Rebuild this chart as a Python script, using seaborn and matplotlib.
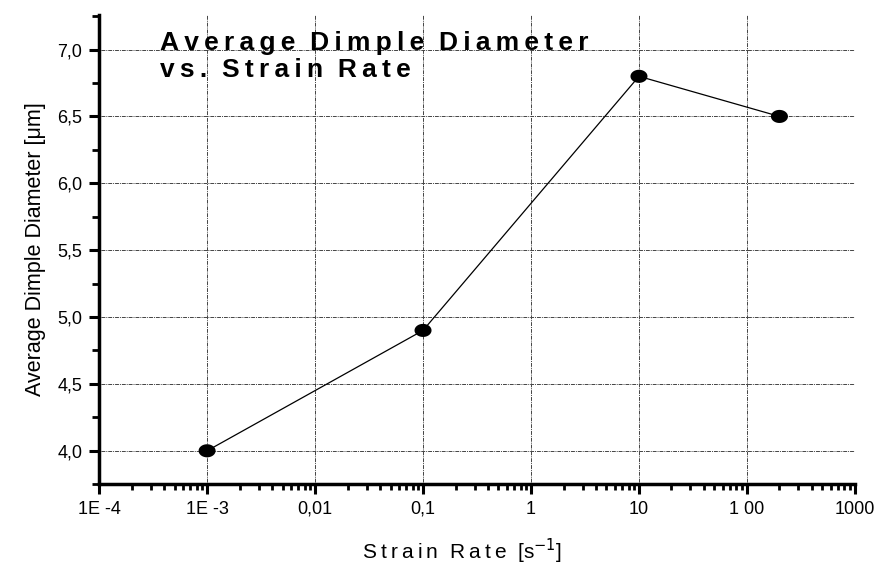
import numpy as np
import pandas as pd
import matplotlib
matplotlib.use("Agg")
import matplotlib.pyplot as plt
import seaborn as sns
from matplotlib.path import Path
from matplotlib.ticker import FixedLocator, LogLocator, MultipleLocator, NullFormatter

strain_rate = [1e-3, 0.1, 10, 200]
dimple_diam = [4.0, 4.9, 6.8, 6.5]
x_ticks = [1e-4, 1e-3, 1e-2, 1e-1, 1, 10, 100, 1000]
x_labels = ["1E -4", "1E -3", "0,01", "0,1", "1", "10", "1 00", "1000"]
y_ticks = [4.0, 4.5, 5.0, 5.5, 6.0, 6.5, 7.0]
y_labels = ["4,0", "4,5", "5,0", "5,5", "6,0", "6,5", "7,0"]

df = pd.DataFrame({"rate": strain_rate, "diam": dimple_diam})

sns.set_style("white")
plt.rcParams["font.family"] = ["Liberation Sans", "DejaVu Sans"]
plt.rcParams["text.color"] = "black"
plt.rcParams["axes.labelcolor"] = "black"

def spaced(s, sp="\u2009"):
    return sp.join(s)

# flattened circle -> ellipse marker like the original
t = np.linspace(0, 2 * np.pi, 60)
ellipse = Path(np.column_stack([1.3 * np.cos(t), np.sin(t)]), closed=True)

fig = plt.figure(figsize=(8.85, 5.69), dpi=100)
ax = fig.add_axes([0.112, 0.149, 0.854, 0.825])

sns.lineplot(data=df, x="rate", y="diam", color="black", linewidth=0.9, ax=ax)
sns.scatterplot(data=df, x="rate", y="diam", color="black", marker=ellipse,
                s=150, edgecolor="none", zorder=5, ax=ax)

ax.set_xscale("log")
ax.set_xlim(1e-4, 1000)
ax.set_ylim(3.75, 7.26)

ax.xaxis.set_major_locator(FixedLocator(x_ticks))
ax.set_xticklabels(x_labels)
ax.xaxis.set_minor_locator(LogLocator(base=10, subs=np.arange(2, 10)))
ax.xaxis.set_minor_formatter(NullFormatter())
ax.set_yticks(y_ticks)
ax.set_yticklabels(y_labels)
ax.yaxis.set_minor_locator(MultipleLocator(0.25))

ax.grid(True, which="major", color="#444444", linestyle=(0, (1, 1, 4, 1)), linewidth=0.7)
for s in ["top", "right"]:
    ax.spines[s].set_visible(False)
for s in ["left", "bottom"]:
    ax.spines[s].set_linewidth(2.5)
    ax.spines[s].set_color("black")

ax.tick_params(axis="both", which="both", bottom=True, left=True, colors="black")
ax.tick_params(axis="both", which="major", direction="out", length=7, width=2.2,
               labelsize=13, labelcolor="black", pad=5)
ax.tick_params(axis="both", which="minor", direction="out", length=4, width=2.0)
ax.tick_params(axis="y", which="minor", length=5)

ax.set_xlabel(spaced("Strain") + "  " + spaced("Rate") + "  [s$^{-1}$]",
              fontsize=15, labelpad=14)
ax.xaxis.set_label_coords(0.48, -0.112)
ax.set_ylabel("Average Dimple Diameter [\u03bcm]", fontsize=15.5, labelpad=8)

title = ("  ".join(spaced(w) for w in "Average Dimple Diameter".split()) + "\n"
         + "  ".join(spaced(w) for w in "vs. Strain Rate".split()))
ax.text(0.08, 0.965, title, transform=ax.transAxes, fontsize=19,
        fontweight="bold", va="top", ha="left", linespacing=1.12, color="black")

fig.savefig("out.png", dpi=100)
